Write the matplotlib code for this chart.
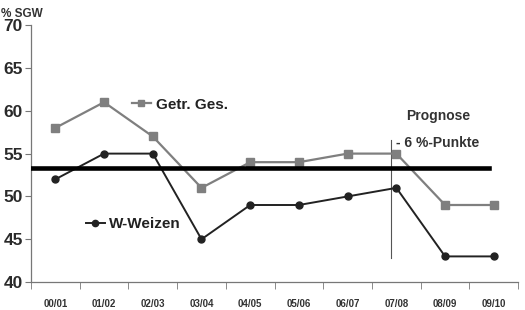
import matplotlib
matplotlib.use("Agg")
import matplotlib.pyplot as plt
from matplotlib.lines import Line2D

categories = ["00/01", "01/02", "02/03", "03/04", "04/05", "05/06", "06/07", "07/08", "08/09", "09/10"]
getr_ges = [58, 61, 57, 51, 54, 54, 55, 55, 49, 49]
w_weizen = [52, 55, 55, 45, 49, 49, 50, 51, 43, 43]
mean_level = 53.3
forecast_x = 6.88
yticks = [40, 45, 50, 55, 60, 65, 70]

plt.rcParams['font.family'] = ['Liberation Sans', 'DejaVu Sans']

fig = plt.figure(figsize=(5.25, 3.1), dpi=100)
ax = fig.add_axes([0.059, 0.090, 0.928, 0.829])

x = list(range(len(categories)))
c_g = "#7f7f7f"
c_w = "#222222"
ax.plot(x, getr_ges, color=c_g, lw=1.6, marker="s", ms=5.5, zorder=3)
ax.plot(x, w_weizen, color=c_w, lw=1.4, marker="o", ms=5, zorder=3)
ax.plot([-0.5, 8.9], [mean_level, mean_level], color="black", lw=3.3, zorder=4)
ax.plot([forecast_x, forecast_x], [42.8, 56.6], color="#555555", lw=0.8, zorder=2)

ax.set_xlim(-0.5, len(categories) - 0.5)
ax.set_ylim(40, 70)
ax.set_yticks(yticks)
ax.set_yticklabels([str(v) for v in yticks], fontsize=12.5, fontweight="bold", color="#2a2a2a")
ax.set_xticks(x)
ax.set_xticklabels(categories, fontsize=7, fontweight="bold", color="#333333")
ax.set_xticks([i - 0.5 for i in range(len(categories) + 1)], minor=True)
ax.tick_params(axis="x", which="major", length=0, pad=12)
ax.tick_params(axis="x", which="minor", length=5, color="#777777", direction="out")
ax.tick_params(axis="y", length=4, color="#777777", pad=2)
for s in ["top", "right"]:
    ax.spines[s].set_visible(False)
for s in ["left", "bottom"]:
    ax.spines[s].set_color("#777777")
    ax.spines[s].set_linewidth(0.9)

h_g = Line2D([], [], color=c_g, lw=1.6, marker="s", ms=4.5)
h_w = Line2D([], [], color=c_w, lw=1.4, marker="o", ms=4.5)
leg1 = ax.legend([h_g], ["Getr. Ges."], loc="center left", bbox_to_anchor=(0.179, 0.69),
                 frameon=False, handlelength=1.25, handletextpad=0.3,
                 prop={"size": 11, "weight": "bold"})
for t in leg1.get_texts():
    t.set_color("#222222")
ax.add_artist(leg1)
leg2 = ax.legend([h_w], ["W-Weizen"], loc="center left", bbox_to_anchor=(0.084, 0.225),
                 frameon=False, handlelength=1.25, handletextpad=0.3,
                 prop={"size": 11, "weight": "bold"})
for t in leg2.get_texts():
    t.set_color("#222222")

fig.text(0.002, 0.975, "% SGW", fontsize=8.5, fontweight="bold", color="#333333", va="top", ha="left")
ax.text(7.86, 59.4, "Prognose", fontsize=10, fontweight="bold", color="#333333", ha="center", va="center")
ax.text(7.0, 56.2, "- 6 %-Punkte", fontsize=10, fontweight="bold", color="#333333", ha="left", va="center")

fig.savefig("out.png", dpi=100)
